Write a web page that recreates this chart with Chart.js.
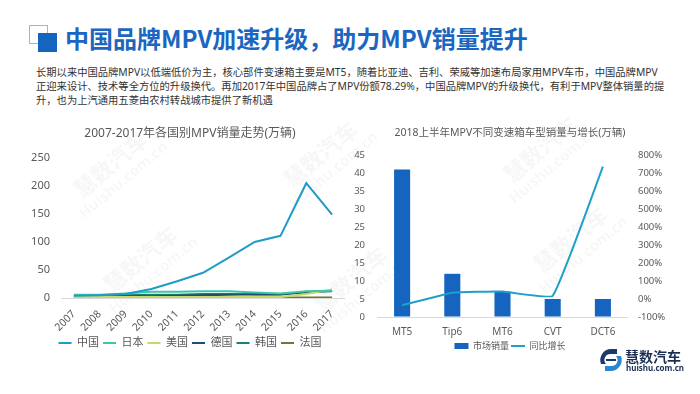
<!DOCTYPE html>
<html>
<head>
<meta charset="utf-8">
<script src="https://cdn.jsdelivr.net/npm/chart.js@4.4.0/dist/chart.umd.min.js"></script>
<style>
  body { margin: 0; background: #fff; width: 700px; height: 394px; overflow: hidden; position: relative;
         font-family: "Noto Sans", "Noto Sans CJK SC", sans-serif; }
  .sq1 { position: absolute; left: 29px; top: 25px; width: 17px; height: 17px; border: 1.5px solid #9fb8c8; }
  .sq2 { position: absolute; left: 38px; top: 33px; width: 19px; height: 19px; background: #1565c0; }
  .head { position: absolute; left: 65px; top: 22px; font-size: 24px; font-weight: bold; color: #1a66c0;
          line-height: 32px; white-space: nowrap; font-family: "Noto Sans CJK SC", sans-serif; }
  .body { position: absolute; left: 36px; font-size: 10.3px; color: #333; white-space: nowrap; line-height: 14px; }
  .wm { position: absolute; color: rgba(0,0,0,0.045); transform: rotate(-40deg); white-space: nowrap;
        font-weight: bold; text-align: center; line-height: 1.1; }
  .wm b { display: block; font-size: 22px; }
  .wm i { display: block; font-style: normal; font-size: 15px; }
  #left { position: absolute; left: 0; top: 120px; width: 380px; height: 240px; }
  #right { position: absolute; left: 330px; top: 120px; width: 360px; height: 242px; }
  .logo-t { position: absolute; left: 625px; top: 347px; font-size: 14px; font-weight: bold; color: #1b2f55;
            font-family: "Noto Sans CJK SC", sans-serif; line-height: 18px; }
  .logo-u { position: absolute; left: 626px; top: 363px; font-size: 8px; font-weight: bold; color: #1b2f55; line-height: 9px; }
</style>
</head>
<body>
<div class="wm" style="left:60px;top:150px;"><b>慧数汽车</b><i>Huishu.com.cn</i></div>
<div class="wm" style="left:270px;top:140px;"><b>慧数汽车</b><i>Huishu.com.cn</i></div>
<div class="wm" style="left:490px;top:135px;"><b>慧数汽车</b><i>Huishu.com.cn</i></div>
<div class="wm" style="left:90px;top:245px;"><b>慧数汽车</b><i>Huishu.com.cn</i></div>
<div class="wm" style="left:520px;top:225px;"><b>慧数汽车</b><i>Huishu.com.cn</i></div>
<div class="wm" style="left:300px;top:265px;"><b>慧数汽车</b><i>Huishu.com.cn</i></div>

<div class="sq1"></div>
<div class="sq2"></div>
<div class="head">中国品牌MPV加速升级，助力MPV销量提升</div>
<div class="body" style="top:65px;">长期以来中国品牌MPV以低端低价为主，核心部件变速箱主要是MT5，随着比亚迪、吉利、荣威等加速布局家用MPV车市，中国品牌MPV</div>
<div class="body" style="top:79px;">正迎来设计、技术等全方位的升级换代。再加2017年中国品牌占了MPV份额78.29%，中国品牌MPV的升级换代，有利于MPV整体销量的提</div>
<div class="body" style="top:93px;">升，也为上汽通用五菱由农村转战城市提供了新机遇</div>

<div id="left"><canvas id="lineChart"></canvas></div>
<div id="right"><canvas id="comboChart"></canvas></div>

<svg style="position:absolute;left:598px;top:347px;" width="26" height="26" viewBox="0 0 26 26">
  <path d="M13 2 A11 11 0 0 0 3 17 L8 17 A6 6 0 0 1 13 7 L19 7 L19 2 Z" fill="#1b3a6b"/>
  <path d="M13 24 A11 11 0 0 0 23 9 L18 9 A6 6 0 0 1 13 19 L7 19 L7 24 Z" fill="#2a86d0"/>
  <path d="M8 12 L18 12 L18 14 L8 14 Z" fill="#1b3a6b"/>
</svg>
<div class="logo-t">慧数汽车</div>
<div class="logo-u">huishu.com.cn</div>

<script>
// 2007-2017 MPV sales by brand origin (10k units)
const years = ['2007', '2008', '2009', '2010', '2011', '2012', '2013', '2014', '2015', '2016', '2017'];
const chinaSales   = [4, 5, 7, 16, 30, 45, 72, 100, 111, 205, 149];
const japanSales   = [6, 6, 8, 11, 11, 12, 12, 10, 8, 12, 13];
const usaSales     = [2, 2, 2, 2, 2, 2, 2, 2, 2, 7, 15];
const germanySales = [2, 2, 3, 3, 4, 5, 6, 7, 7, 10, 13];
const koreaSales   = [5, 5, 5, 6, 6, 7, 7, 6, 6, 11, 12];
const franceSales  = [1, 1, 1, 1, 1, 1, 1, 1, 1, 1, 1];

// 2018 H1 MPV sales by gearbox type
const gearboxTypes  = ['MT5', 'Tip6', 'MT6', 'CVT', 'DCT6'];
const gearboxSales  = [41, 12, 7, 5, 5];
const gearboxGrowth = [-35, 35, 42, 18, 735];

const tickColor = '#595959';
const baseLine = ctx => ctx.tick.value === 0 ? '#d9d9d9' : 'rgba(0,0,0,0)';

Chart.defaults.font.family = '"Noto Sans", "Noto Sans CJK SC", sans-serif';
Chart.defaults.color = tickColor;

const lineSeries = [
    { label: '中国', data: chinaSales, color: '#1f9bc9' },
    { label: '日本', data: japanSales, color: '#3cc8a8' },
    { label: '美国', data: usaSales, color: '#c8d86a' },
    { label: '德国', data: germanySales, color: '#1d4f6e' },
    { label: '韩国', data: koreaSales, color: '#1f7f72' },
    { label: '法国', data: franceSales, color: '#6e7a2e' }
];

// empty right-hand axis, only keeps the title and legend centred like the slide
const spacerAxis = width => ({
    position: 'right',
    display: true,
    ticks: { display: false },
    grid: { display: false, drawTicks: false },
    border: { display: false },
    afterFit: scale => { scale.width = width; }
});

new Chart(document.getElementById('lineChart'), {
    type: 'line',
    data: {
        labels: years,
        datasets: lineSeries.map(s => ({
            label: s.label,
            data: s.data,
            borderColor: s.color,
            backgroundColor: s.color,
            borderWidth: 2,
            pointRadius: 0,
            tension: 0
        }))
    },
    options: {
        responsive: true,
        maintainAspectRatio: false,
        animation: false,
        layout: { padding: { left: 0, right: 0, top: 0, bottom: 1.5 } },
        plugins: {
            title: {
                display: true,
                text: '2007-2017年各国别MPV销量走势(万辆)',
                font: { size: 12, weight: 'normal' },
                color: tickColor,
                padding: { top: 6, bottom: 17.6 }
            },
            legend: {
                position: 'bottom',
                labels: {
                    usePointStyle: true,
                    pointStyle: 'line',
                    pointStyleWidth: 13,
                    padding: 4,
                    font: { size: 11 },
                    color: tickColor
                }
            },
            tooltip: { enabled: false }
        },
        scales: {
            x: {
                offset: true,
                grid: { display: false },
                border: { display: false },
                ticks: { minRotation: 45, maxRotation: 45, font: { size: 10.5 }, padding: 2 },
                afterFit: scale => { scale.height = 35.5; }
            },
            y: {
                min: 0,
                max: 250,
                ticks: { stepSize: 50, font: { size: 11 }, padding: 11 },
                grid: { color: baseLine, drawTicks: false },
                border: { display: false },
                afterFit: scale => { scale.width = 61; }
            },
            spacer: spacerAxis(35)
        }
    }
});

const barColor = '#1565c0';
const growthColor = '#1fa0c8';

new Chart(document.getElementById('comboChart'), {
    type: 'bar',
    data: {
        labels: gearboxTypes,
        datasets: [
            {
                type: 'bar',
                label: '市场销量',
                data: gearboxSales,
                backgroundColor: barColor,
                yAxisID: 'y',
                barPercentage: 0.32,
                categoryPercentage: 1,
                order: 1
            },
            {
                type: 'line',
                label: '同比增长',
                data: gearboxGrowth,
                borderColor: growthColor,
                backgroundColor: growthColor,
                borderWidth: 2,
                pointRadius: 0,
                tension: 0.1,
                yAxisID: 'y1',
                order: 0
            }
        ]
    },
    options: {
        responsive: true,
        maintainAspectRatio: false,
        animation: false,
        layout: { padding: { left: 0, right: 0, top: 0, bottom: 1.5 } },
        plugins: {
            title: {
                display: true,
                text: '2018上半年MPV不同变速箱车型销量与增长(万辆)',
                font: { size: 10.5, weight: 'normal' },
                color: tickColor,
                padding: { top: 7, bottom: 15.4 }
            },
            legend: {
                position: 'bottom',
                labels: {
                    usePointStyle: true,
                    pointStyle: 'line',
                    pointStyleWidth: 14,
                    padding: 2,
                    font: { size: 9 },
                    color: tickColor,
                    sort: (a, b) => a.datasetIndex - b.datasetIndex,
                    generateLabels: chart => Chart.defaults.plugins.legend.labels.generateLabels(chart).map(item => {
                        if (item.datasetIndex === 0) {
                            item.lineWidth = 6;
                            item.strokeStyle = barColor;
                        }
                        return item;
                    })
                }
            },
            tooltip: { enabled: false }
        },
        scales: {
            x: {
                grid: { display: false },
                border: { display: false },
                ticks: { font: { size: 10 }, padding: 1 },
                afterFit: scale => { scale.height = 22.5; }
            },
            y: {
                position: 'left',
                min: 0,
                max: 45,
                ticks: { stepSize: 5, font: { size: 9.5 }, padding: 12 },
                grid: { color: baseLine, drawTicks: false },
                border: { display: false },
                afterFit: scale => { scale.width = 47; }
            },
            y1: {
                position: 'right',
                min: -100,
                max: 800,
                ticks: { stepSize: 100, font: { size: 9.5 }, padding: 10, callback: v => v + '%' },
                grid: { display: false, drawTicks: false },
                border: { display: false },
                afterFit: scale => { scale.width = 62; }
            }
        }
    }
});
</script>
</body>
</html>
